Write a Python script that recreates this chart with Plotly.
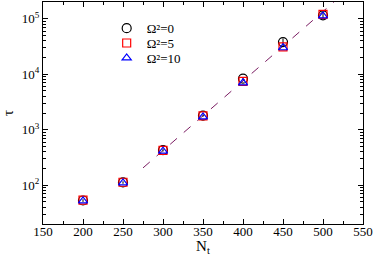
import plotly.graph_objects as go

nt = [200, 250, 300, 350, 400, 450, 500]
tau_w0 = [53, 112, 430, 1800, 8300, 38000, 115000]
err_w0 = [3, 6, 25, 90, 600, 6000, 15000]
tau_w5 = [54, 113, 425, 1780, 7400, 31000, 120000]
tau_w10 = [52, 110, 410, 1700, 7000, 30000, 112000]
fit_x = [275, 520]
fit_y = [205, 240000]

xtick_vals = [150, 200, 250, 300, 350, 400, 450, 500, 550]
ytick_vals = [1e2, 1e3, 1e4, 1e5]
ytick_text = ["10<sup>2</sup>", "10<sup>3</sup>", "10<sup>4</sup>", "10<sup>5</sup>"]
decades = [10, 100, 1000, 10000, 100000]
minor_mult = [2, 3, 4, 5, 6, 7, 8, 9]
ytick_minor = [d * m for d in decades for m in minor_mult]

font_fam = "Liberation Serif"

fig = go.Figure()
fig.add_trace(go.Scatter(x=fit_x, y=fit_y, mode="lines",
                         line=dict(color="#7b1c62", width=1, dash="dash"),
                         showlegend=False, hoverinfo="skip"))
fig.add_trace(go.Scatter(x=nt, y=tau_w0, mode="markers", name="Ω²=0", legend="legend",
                         marker=dict(symbol="circle-open", size=9, color="black", line=dict(width=1.2)),
                         error_y=dict(type="data", array=err_w0, color="black", thickness=1, width=0)))
fig.add_trace(go.Scatter(x=nt, y=tau_w5, mode="markers", name="Ω²=5", legend="legend2",
                         marker=dict(symbol="square-open", size=8, color="red", line=dict(width=1.2))))
fig.add_trace(go.Scatter(x=nt, y=tau_w10, mode="markers", name="Ω²=10", legend="legend3",
                         marker=dict(symbol="triangle-up-open", size=8, color="blue", line=dict(width=1.2))))
fig.add_trace(go.Scatter(x=[None], y=[None], yaxis="y2", showlegend=False, hoverinfo="skip"))

leg_common = dict(x=0.199, xanchor="left", yanchor="middle",
                  bgcolor="rgba(0,0,0,0)", borderwidth=0,
                  font=dict(family=font_fam, size=13), itemwidth=30)

fig.update_layout(
    width=374, height=256,
    margin=dict(l=43, r=11, t=2, b=32, autoexpand=False),
    paper_bgcolor="white", plot_bgcolor="white",
    font=dict(family=font_fam, size=13, color="black"),
    showlegend=True, dragmode=False,
    legend=dict(y=0.882, **leg_common),
    legend2=dict(y=0.815, **leg_common),
    legend3=dict(y=0.748, **leg_common),
    xaxis=dict(range=[150, 550], tickvals=xtick_vals, ticks="inside", ticklen=5,
               tickcolor="black", automargin=False, ticklabelstandoff=-5,
               showline=True, linecolor="black", linewidth=1, mirror="ticks",
               showgrid=False, zeroline=False,
               minor=dict(ticks="inside", ticklen=3, dtick=25, tick0=150,
                          tickcolor="black", showgrid=False),
               title=dict(text="N<sub>t</sub>", font=dict(size=15), standoff=0)),
    yaxis=dict(type="log", range=[1.301, 5.301], tickvals=ytick_vals, ticktext=ytick_text,
               ticks="inside", ticklen=5, tickcolor="black", automargin=False,
               showline=True, linecolor="black", linewidth=1, mirror="ticks",
               showgrid=False, zeroline=False,
               title=dict(text="τ", font=dict(size=15), standoff=4)),
    yaxis2=dict(type="log", range=[1.301, 5.301], overlaying="y", side="left",
                tickvals=ytick_minor, showticklabels=False,
                ticks="inside", ticklen=3, tickcolor="black", automargin=False,
                showline=True, linecolor="black", linewidth=1, mirror="ticks",
                showgrid=False, zeroline=False),
)

fig.write_html("out.html", config={"displayModeBar": False, "staticPlot": True},
               post_script="document.body.style.margin='0';document.body.style.overflow='hidden';")
